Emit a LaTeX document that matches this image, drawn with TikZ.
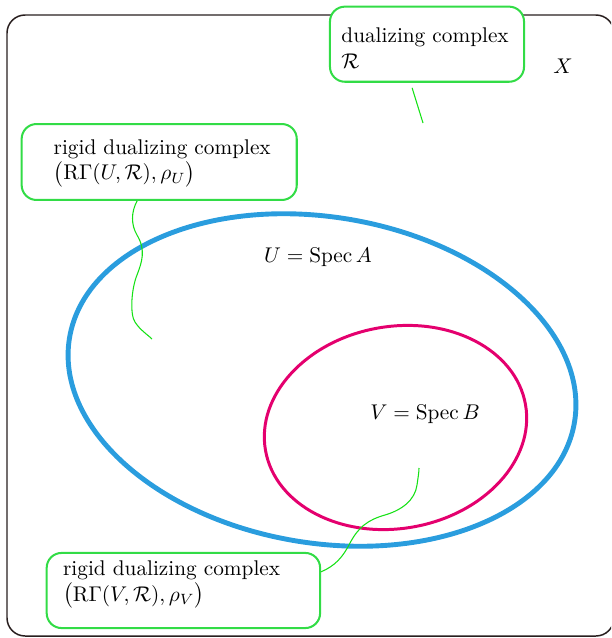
\documentclass[tikz,border=0pt]{standalone}
\usepackage{amsmath, amssymb}
\usepackage{tikz}
\usepackage{xcolor}
\definecolor{ublue}{RGB}{42,157,222}
\definecolor{vred}{RGB}{228,0,110}
\definecolor{boxgreen}{RGB}{50,220,70}
\definecolor{linegreen}{RGB}{20,225,20}
\definecolor{framecol}{RGB}{40,30,30}
\newcommand{\rgam}{\mathrm{R}\Gamma}

\tikzset{
    cbox/.style={draw=boxgreen, fill=white, line width=0.95pt, rounded corners=7pt, inner sep=0pt},
    ctext/.style={align=left, anchor=base west, inner sep=0pt},
    wire/.style={linegreen, line width=0.5pt}
}

\begin{document}
\begin{tikzpicture}[x=0.47pt, y=-0.47pt]
    \clip (0,0) rectangle (611,638);

    % The scheme X
    \draw[framecol, line width=0.7pt, rounded corners=8.5pt] (7,15) rectangle (614,636);
    \node (xlab) at (563,66) {$X$};

    % Open affines U and V
    \draw[ublue, line width=2.3pt, rotate around={-9.5:(322,380)}] (322,380) ellipse [x radius=256, y radius=163];
    \draw[vred, line width=1.4pt, rotate around={10:(395.5,427.5)}] (395.5,427.5) ellipse [x radius=132, y radius=101];
    \node (ulab) at (318,257) {$U = \operatorname{Spec} A$};
    \node (vlab) at (425,414) {$V = \operatorname{Spec} B$};

    % Callouts (base anchor = baseline of the last line)
    \node[cbox, minimum width=91.2pt, minimum height=35.3pt] (rbox) at (427,44.2) {};
    \node[ctext] (rtext) at (341,68.3) {dualizing complex\\$\mathcal{R}$};
    \node[cbox, minimum width=129.3pt, minimum height=35.7pt] (ubox) at (159.2,162) {};
    \node[ctext] (utext) at (53.3,180) {rigid dualizing complex\\$\bigl(\rgam(U,\mathcal{R}),\rho_U\bigr)$};
    \node[cbox, minimum width=128.5pt, minimum height=35.3pt] (vbox) at (183.4,590.5) {};
    \node[ctext] (vtext) at (62.7,601) {rigid dualizing complex\\$\bigl(\rgam(V,\mathcal{R}),\rho_V\bigr)$};

    % where the callouts point
    \coordinate (rpt) at (423,123);
    \coordinate (upt) at (152,339);
    \coordinate (vpt) at (419,468);

    \draw[wire] ([xshift=-7pt,yshift=-2.4pt]rbox.south) -- (rpt);
    \draw[wire] ([xshift=-10.4pt]ubox.south) .. controls (131,212) and (131,225) .. (137,235)
        .. controls (146,250) and (142,262) .. (137,275)
        .. controls (131,290) and (130,315) .. (135,322)
        .. controls (140,330) and (148,335) .. (upt);
    \draw[wire] ([yshift=8.8pt]vbox.east) .. controls (335,566) and (343,557) .. (350,543)
        .. controls (358,528) and (367,520) .. (385,515)
        .. controls (402,510) and (415,500) .. (417,485)
        .. controls (418,478) and (419,472) .. (vpt);
\end{tikzpicture}
\end{document}
